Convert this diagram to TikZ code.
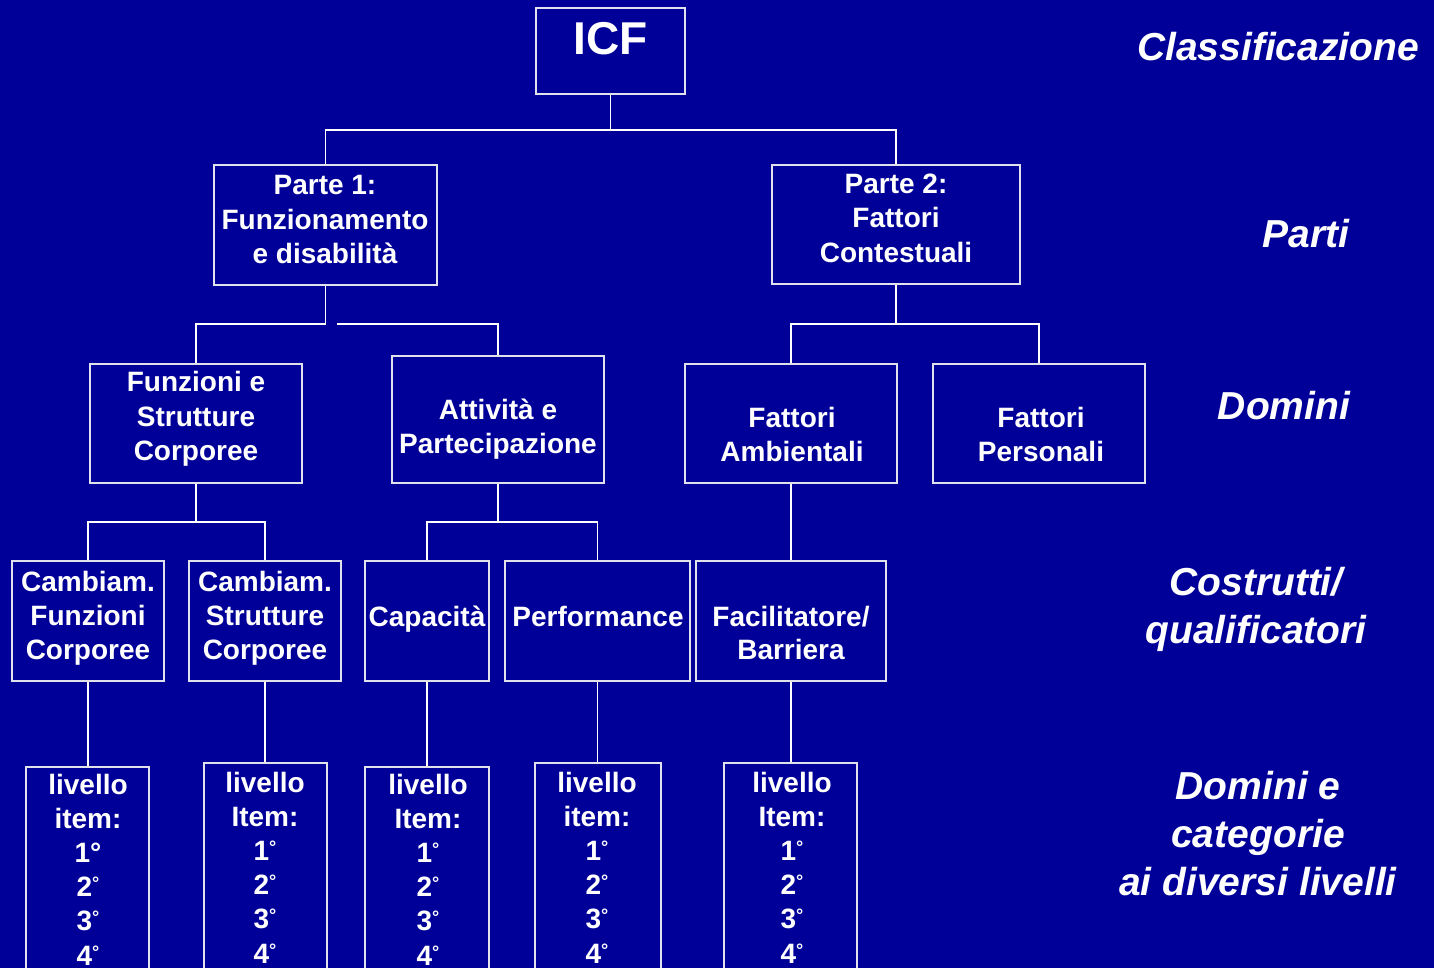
\documentclass[tikz,border=0pt]{standalone}
\usepackage{fontspec}
\setmainfont{Liberation Sans}
\definecolor{bg}{RGB}{0,0,153}
\definecolor{ln}{RGB}{225,225,235}
\newcommand{\dgs}{\raisebox{7pt}{\fontsize{18}{18}\selectfont °}}
\begin{document}
\begin{tikzpicture}[x=1pt,y=-1pt,
 box/.style={draw=ln, line width=1.3pt, inner sep=0pt},
 txt/.style={text=white, font=\bfseries\fontsize{28}{34.5}\selectfont, align=center, inner sep=0pt},
 lvl/.style={text=white, font=\bfseries\fontsize{28}{34.2}\selectfont, align=center, inner sep=0pt},
 side/.style={text=white, font=\bfseries\itshape\fontsize{39}{48}\selectfont, align=center, inner sep=0pt},
 con/.style={draw=white, line width=1.5pt}]
\fill[bg] (0,0) rectangle (1434,968);
\useasboundingbox (0,0) rectangle (1434,968);
\clip (0,0) rectangle (1434,968);

% boxes
\node[box, minimum width=149pt, minimum height=86pt] (icf) at (610.5,51) {};
\node[box, minimum width=223pt, minimum height=120pt] (p1) at (325.5,225) {};
\node[box, minimum width=248pt, minimum height=119pt] (p2) at (896,224.5) {};
\node[box, minimum width=212pt, minimum height=119pt] (fsc) at (196,423.5) {};
\node[box, minimum width=212pt, minimum height=127pt] (ap) at (498,419.5) {};
\node[box, minimum width=212pt, minimum height=119pt] (fa) at (791,423.5) {};
\node[box, minimum width=212pt, minimum height=119pt] (fp) at (1039,423.5) {};
\node[box, minimum width=152pt, minimum height=120pt] (cf) at (88,621) {};
\node[box, minimum width=152pt, minimum height=120pt] (cs) at (265,621) {};
\node[box, minimum width=124pt, minimum height=120pt] (cap) at (427,621) {};
\node[box, minimum width=185pt, minimum height=120pt] (perf) at (597.5,621) {};
\node[box, minimum width=190pt, minimum height=120pt] (fb) at (791,621) {};
\node[box, minimum width=123pt, minimum height=233pt] (l1) at (87.5,883.5) {};
\node[box, minimum width=123pt, minimum height=237pt] (l2) at (265.5,881.5) {};
\node[box, minimum width=124pt, minimum height=233pt] (l3) at (427,883.5) {};
\node[box, minimum width=126pt, minimum height=237pt] (l4) at (598,881.5) {};
\node[box, minimum width=133pt, minimum height=237pt] (l5) at (790.5,881.5) {};

% texts
\node[text=white, font=\bfseries\fontsize{46}{46}\selectfont, inner sep=0pt] (icft) at (611,39) {ICF};
\node[txt] (p1t) at (325,220) {Parte 1:\\Funzionamento\\e disabilità};
\node[txt] (p2t) at (896,218) {Parte 2:\\Fattori\\Contestuali};
\node[txt] (fsct) at (196,419) {Funzioni e\\Strutture\\Corporee};
\node[txt] (apt) at (498,429) {Attività e\\Partecipazione};
\node[txt] (fat) at (792,434.5) {Fattori\\Ambientali};
\node[txt] (fpt) at (1041,434.5) {Fattori\\Personali};
\node[txt, font=\bfseries\fontsize{28}{34}\selectfont] (cft) at (88,618) {Cambiam.\\Funzioni\\Corporee};
\node[txt, font=\bfseries\fontsize{28}{34}\selectfont] (cst) at (265,618) {Cambiam.\\Strutture\\Corporee};
\node[txt] (capt) at (427,619) {Capacità};
\node[txt] (perft) at (598,616) {Performance};
\node[txt, font=\bfseries\fontsize{28}{33}\selectfont] (fbt) at (791,632.5) {Facilitatore/\\Barriera};
\node[lvl] (l1t) at (88,869.5) {livello\\item:\\1°\\2\dgs\\3\dgs\\4\dgs};
\node[lvl] (l2t) at (265,867.5) {livello\\Item:\\1\dgs\\2\dgs\\3\dgs\\4\dgs};
\node[lvl] (l3t) at (428,869.5) {livello\\Item:\\1\dgs\\2\dgs\\3\dgs\\4\dgs};
\node[lvl] (l4t) at (597,867.5) {livello\\item:\\1\dgs\\2\dgs\\3\dgs\\4\dgs};
\node[lvl] (l5t) at (792,867.5) {livello\\Item:\\1\dgs\\2\dgs\\3\dgs\\4\dgs};

% side labels
\node[side] (s1) at (1278,47) {Classificazione};
\node[side] (s2) at (1306,234) {Parti};
\node[side] (s3) at (1284,406) {Domini};
\node[side] (s4) at (1256,609) {Costrutti/\\qualificatori};
\node[side] (s5) at (1258,833.5) {Domini e\\categorie\\ai diversi livelli};

% connectors
\coordinate (j1) at (610.5,130);
\coordinate (j2) at (325.5,324);
\coordinate (j2b) at (337,324);
\coordinate (j3) at (896,324);
\coordinate (j4) at (196,522);
\coordinate (j5) at (498,522);
\draw[con] (icf.south) -- (j1) -| (p1.north);
\draw[con] (j1) -| (p2.north);
\draw[con] (p1.south) -- (j2) -| (fsc.north);
\draw[con] (j2b) -| (ap.north);
\draw[con] (p2.south) -- (j3) -| (fa.north);
\draw[con] (j3) -| (fp.north);
\draw[con] (fsc.south) -- (j4) -| (cf.north);
\draw[con] (j4) -| (cs.north);
\draw[con] (ap.south) -- (j5) -| (cap.north);
\draw[con] (j5) -| (perf.north);
\draw[con] (fa.south) -- (fb.north);
\draw[con] (cf.south) -- (cf.south |- l1.north);
\draw[con] (cs.south) -- (cs.south |- l2.north);
\draw[con] (cap.south) -- (cap.south |- l3.north);
\draw[con] (perf.south) -- (perf.south |- l4.north);
\draw[con] (fb.south) -- (fb.south |- l5.north);
\end{tikzpicture}
\end{document}
